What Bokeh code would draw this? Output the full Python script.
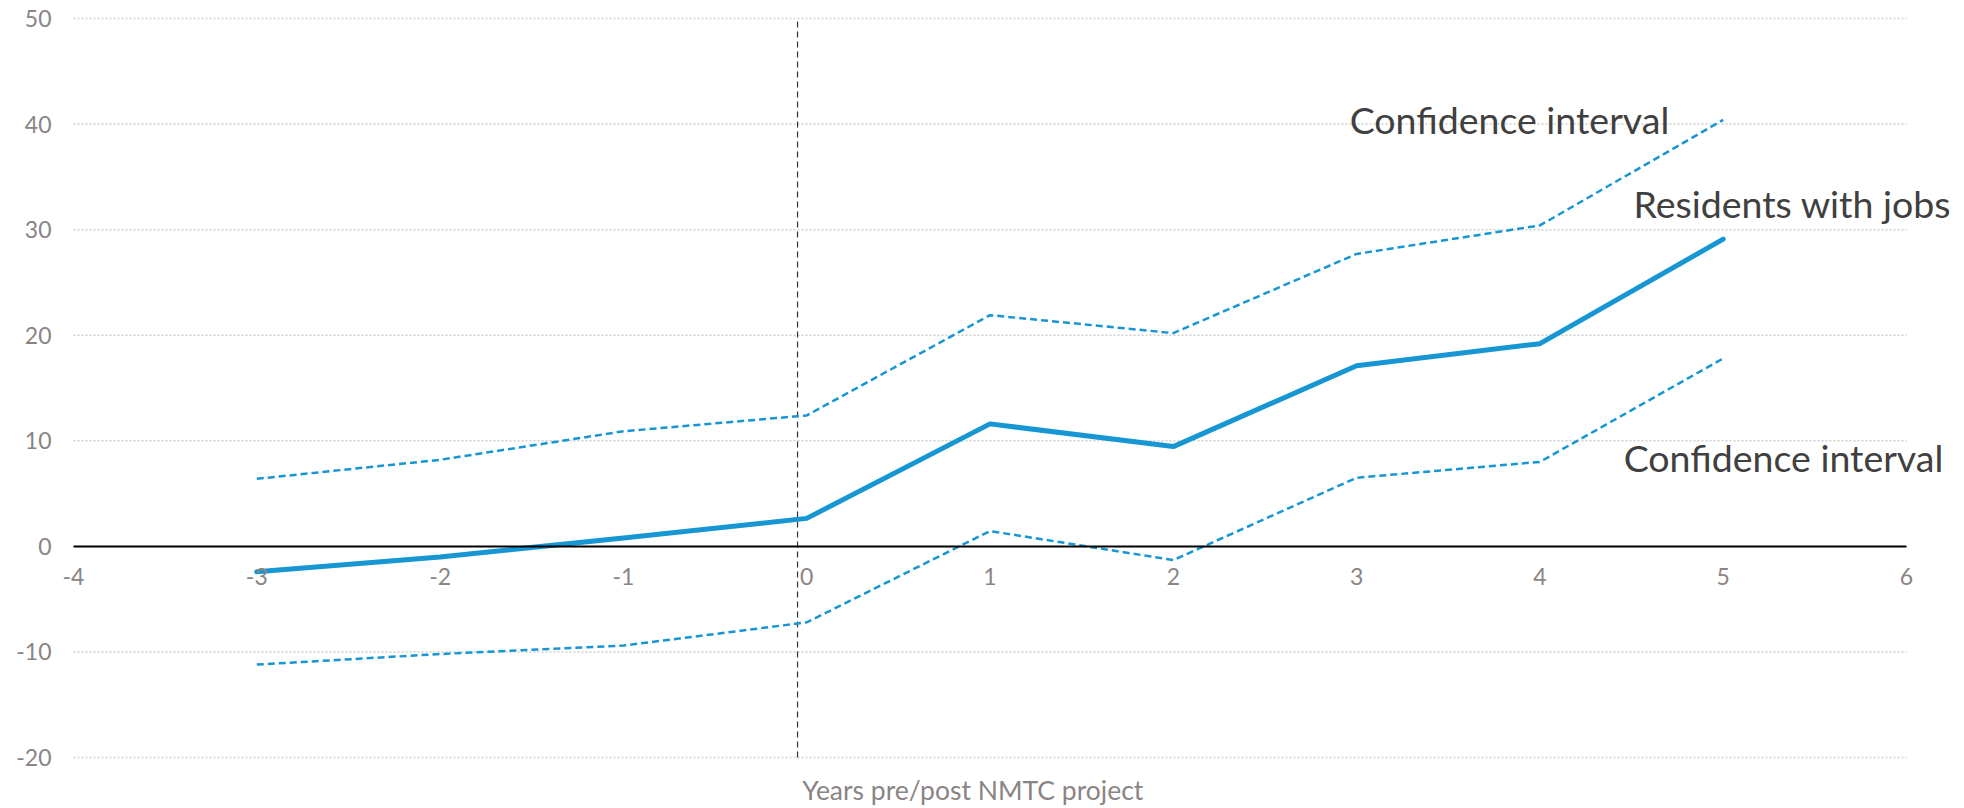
from bokeh.plotting import figure
from bokeh.models import (Range1d, FixedTicker, Label, LabelSet, ColumnDataSource,
                          PrintfTickFormatter)
from bokeh.core.properties import value
from bokeh.embed import file_html
from bokeh.resources import INLINE

# ---- data ----
years = [-3, -2, -1, 0, 1, 2, 3, 4, 5]
residents_with_jobs = [-2.4, -1.0, 0.8, 2.65, 11.6, 9.45, 17.1, 19.2, 29.1]
ci_upper = [6.4, 8.2, 10.9, 12.4, 21.9, 20.2, 27.7, 30.4, 40.4]
ci_lower = [-11.2, -10.2, -9.4, -7.2, 1.45, -1.3, 6.5, 8.0, 17.8]
x_ticks = [-4, -3, -2, -1, 0, 1, 2, 3, 4, 5, 6]
y_ticks = [-20, -10, 0, 10, 20, 30, 40, 50]
grid_levels = [-20, -10, 10, 20, 30, 40, 50]
label_texts = ["Confidence interval", "Residents with jobs", "Confidence interval"]
label_x = [2.962, 4.51, 4.457]
label_y = [39.1, 31.06, 7.04]
x_title = "Years pre/post NMTC project"
project_start = -0.05

BLUE = "#1696d2"
GRAY = "#8a8484"
DARK = "#404040"
FONT = "Lato"

XMIN, XMAX = x_ticks[0], x_ticks[-1]
YMIN, YMAX = y_ticks[0], y_ticks[-1]

p = figure(width=1964, height=808, x_range=Range1d(-4.0982, 6.3164),
           y_range=Range1d(-24.831, 51.705),
           output_backend="svg", toolbar_location=None,
           min_border_left=55, min_border_right=0, min_border_top=0, min_border_bottom=0)
p.outline_line_color = None
p.background_fill_color = "white"
p.border_fill_color = "white"
p.xgrid.visible = False
p.ygrid.visible = False

# dotted horizontal grid lines between x = -4 and 6
p.segment(x0=[XMIN] * len(grid_levels), y0=grid_levels,
          x1=[XMAX] * len(grid_levels), y1=grid_levels,
          line_color="#d0d0d0", line_width=1.5, line_dash="2 2")

# y axis
p.yaxis.ticker = FixedTicker(ticks=y_ticks)
p.yaxis.formatter = PrintfTickFormatter(format="%d")
p.yaxis.axis_line_color = None
p.yaxis.major_tick_line_color = None
p.yaxis.minor_tick_line_color = None
p.yaxis.major_tick_out = 0
p.yaxis.major_label_standoff = 4
p.yaxis.major_label_text_font = FONT
p.yaxis.major_label_text_font_size = "23px"
p.yaxis.major_label_text_color = GRAY

# x axis drawn at y = 0
p.xaxis.ticker = FixedTicker(ticks=x_ticks)
p.xaxis.formatter = PrintfTickFormatter(format="%d")
p.xaxis.fixed_location = 0
p.xaxis.bounds = (XMIN, XMAX)
p.xaxis.axis_line_color = "black"
p.xaxis.axis_line_width = 2
p.xaxis.major_tick_line_color = None
p.xaxis.minor_tick_line_color = None
p.xaxis.major_tick_out = 0
p.xaxis.major_label_standoff = 22
p.xaxis.major_label_text_font = FONT
p.xaxis.major_label_text_font_size = "23px"
p.xaxis.major_label_text_color = GRAY

# vertical dashed marker at project start
p.segment(x0=[project_start], y0=[YMIN], x1=[project_start], y1=[YMAX],
          line_color="#333333", line_width=1.2, line_dash="6 4")

# lines
p.line(years, ci_upper, line_color=BLUE, line_width=2.5, line_dash="7 4")
p.line(years, ci_lower, line_color=BLUE, line_width=2.5, line_dash="7 4")
p.line(years, residents_with_jobs, line_color=BLUE, line_width=5,
       line_cap="round", line_join="round")

# annotation labels
src = ColumnDataSource(dict(x=label_x, y=label_y, text=label_texts))
p.add_layout(LabelSet(x="x", y="y", text="text", source=src, text_font=value(FONT),
                      text_font_size="37.5px", text_color=DARK, text_align="left",
                      text_baseline="alphabetic"))

# x axis title
p.add_layout(Label(x=0.906, y=-23.05, text=x_title,
                   text_font=FONT, text_font_size="26.5px", text_color=GRAY,
                   text_align="center", text_baseline="alphabetic"))

open("out.html", "w").write(file_html(p, INLINE))
